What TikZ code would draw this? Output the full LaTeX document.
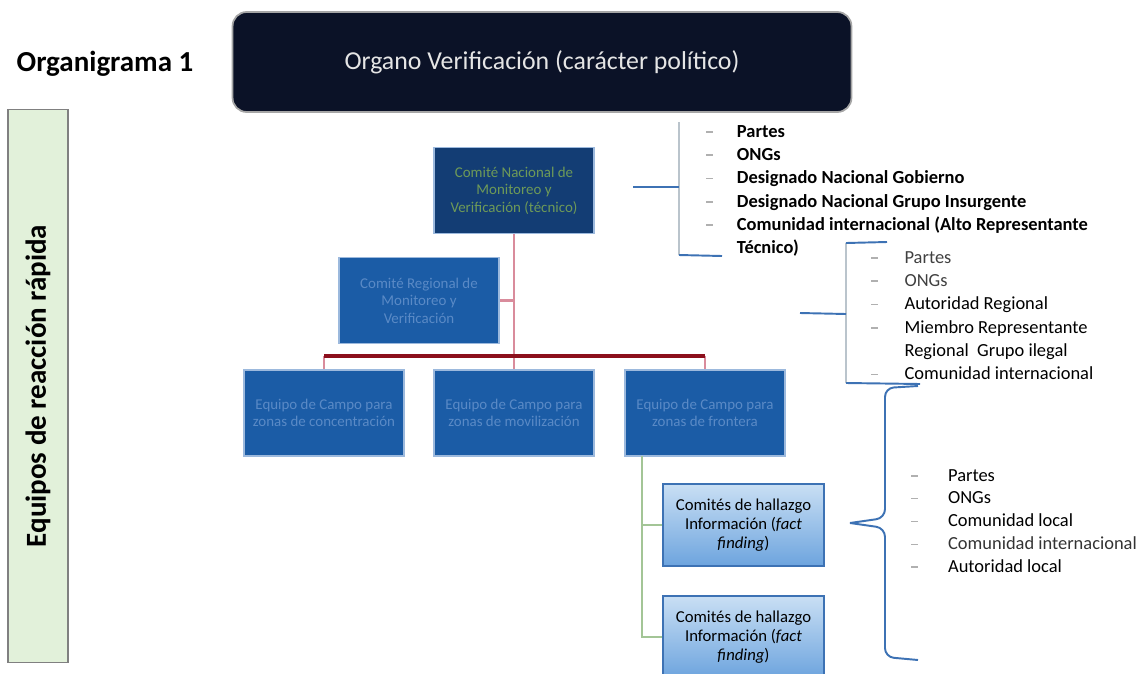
\documentclass[tikz,border=0pt]{standalone}
\usepackage{fontspec}
\setmainfont{Carlito}
\usepackage[usenames,dvipsnames]{xcolor}
\usepackage{tikz}

\definecolor{navybox}{HTML}{0B1227}
\definecolor{darkblue}{HTML}{133D74}
\definecolor{midblue}{HTML}{1B5CA6}
\definecolor{ghostblue}{HTML}{5A8AC6}
\definecolor{ghostgreen}{HTML}{6E9A58}
\definecolor{pinkline}{HTML}{D98C9C}
\definecolor{redline}{HTML}{8C0F1C}
\definecolor{greenline}{HTML}{A3C596}
\definecolor{braceblue}{HTML}{3D72B4}
\definecolor{bracegray}{HTML}{BAC4CC}
\definecolor{bulletgray}{HTML}{B0B0B0}
\definecolor{barfill}{HTML}{E2F1DA}
\definecolor{findtop}{HTML}{C9DFF4}
\definecolor{findbottom}{HTML}{6DA4DE}

\newcommand{\blt}{\textcolor{bulletgray}{\rule[2.5pt]{4pt}{0.9pt}}}

\begin{document}
\begin{tikzpicture}[x=0.02cm,y=-0.02cm,
	bluebox/.style={draw=ghostblue!60!white, line width=0.8pt, fill=midblue, text=ghostblue,
		minimum width=3.2cm, minimum height=1.72cm, align=center, font=\fontsize{8.5}{10}\selectfont},
	findbox/.style={draw=braceblue, line width=0.8pt, top color=findtop, bottom color=findbottom,
		minimum width=3.22cm, minimum height=1.64cm, align=center, font=\fontsize{9.5}{10.8}\selectfont},
	pink/.style={pinkline, line width=1.6pt},
	braceline/.style={braceblue, line width=1.1pt}]

\useasboundingbox (0,0) rectangle (1143,673);

	% titulo y barra lateral
	\node (titulo) at (105,64) {\fontsize{16.5}{19}\selectfont\bfseries Organigrama 1};
	\node[draw=gray, line width=0.8pt, fill=barfill, rotate=90, minimum width=11.06cm, minimum height=1.2cm]
		(equipos) at (38,386) {\fontsize{16.5}{19}\selectfont\bfseries Equipos de reacción rápida};

	% cajas
	\node[draw=gray!70, line width=1pt, fill=navybox, rounded corners=8pt, text=white!80!gray,
		minimum width=12.38cm, minimum height=2cm] (organo) at (542,62)
		{\fontsize{14.7}{17}\selectfont Organo Verificación (carácter político)};
	\node[bluebox, fill=darkblue, text=ghostgreen] (nacional) at (514,190.5)
		{Comité Nacional de\\Monitoreo y\\Verificación (técnico)};
	\node[bluebox] (regional) at (419,300.5) {Comité Regional de\\Monitoreo y\\Verificación};
	\node[bluebox] (campoA) at (324,413) {Equipo de Campo para\\zonas de concentración};
	\node[bluebox] (campoB) at (514,413) {Equipo de Campo para\\zonas de movilización};
	\node[bluebox] (campoC) at (705,413) {Equipo de Campo para\\zonas de frontera};
	\node[findbox] (hallazgoA) at (743.5,525) {Comités de hallazgo\\Información (\textit{fact}\\\textit{finding})};
	\node[findbox] (hallazgoB) at (743.5,637) {Comités de hallazgo\\Información (\textit{fact}\\\textit{finding})};

	% conectores
	\coordinate (bus) at (514,356);
	\coordinate (ramal) at (642,456);
	\draw[pink] (nacional.south) -- (campoB.north);
	\draw[pink] (regional.east) -- (regional.east -| nacional.south);
	\draw[pink] (campoA.north |- bus) -- (campoA.north);
	\draw[pink] (campoC.north |- bus) -- (campoC.north);
	\draw[redline, line width=2.2pt] (campoA.north |- bus) -- (campoC.north |- bus);
	\draw[greenline, line width=1.6pt] (ramal) |- (hallazgoA.west);
	\draw[greenline, line width=1.6pt] (ramal) |- (hallazgoB.west);

	% llaves
	\coordinate (llaveA) at (679,122);
	\coordinate (llaveB) at (679,255);
	\draw[bracegray, line width=1.6pt] (llaveA) -- (llaveB);
	\draw[braceline] (633,187) -- (679,187);
	\draw[braceline] (llaveB) -- (722,256);

	\coordinate (llaveC) at (846,243);
	\coordinate (llaveD) at (846,383);
	\draw[bracegray, line width=1.6pt] (llaveC) -- (llaveD);
	\draw[braceline] (llaveC) -- (887,242);
	\draw[braceline] (800,313) -- (846,314);
	\draw[braceline] (llaveD) -- (920,384);

	\coordinate (llaveE) at (918,386);
	\coordinate (llaveF) at (918,660);
	\coordinate (punta) at (850,523);
	\draw[braceline, rounded corners=5pt] (llaveE) -- (885,388) -- (885,518) -- (punta);
	\draw[braceline, rounded corners=5pt] (llaveF) -- (885,657) -- (885,528) -- (punta);

	% listas
	\node[anchor=base west] (listaA) at (700,137) {\fontsize{10.5}{13.3}\selectfont\bfseries
		\begin{tabular}[t]{@{}p{17.5pt}@{}l@{}}
		\blt & Partes\\
		\blt & ONGs\\
		\blt & Designado Nacional Gobierno\\
		\blt & Designado Nacional Grupo Insurgente\\
		\blt & Comunidad internacional (Alto Representante\\
		     & Técnico)
		\end{tabular}};
	\node[anchor=base west] (listaB) at (865,263) {\fontsize{10.5}{13.3}\selectfont
		\begin{tabular}[t]{@{}p{19pt}@{}l@{}}
		\blt & \textcolor{black!75}{Partes}\\
		\blt & \textcolor{black!75}{ONGs}\\
		\blt & Autoridad Regional\\
		\blt & Miembro Representante\\
		     & Regional\ \ Grupo ilegal\\
		\blt & Comunidad internacional
		\end{tabular}};
	\node[anchor=base west] (listaC) at (905,481) {\fontsize{10.5}{13}\selectfont
		\begin{tabular}[t]{@{}p{21pt}@{}l@{}}
		\blt & Partes\\
		\blt & ONGs\\
		\blt & Comunidad local\\
		\blt & \textcolor{black!80}{Comunidad internacional}\\
		\blt & Autoridad local
		\end{tabular}};

\end{tikzpicture}
\end{document}
